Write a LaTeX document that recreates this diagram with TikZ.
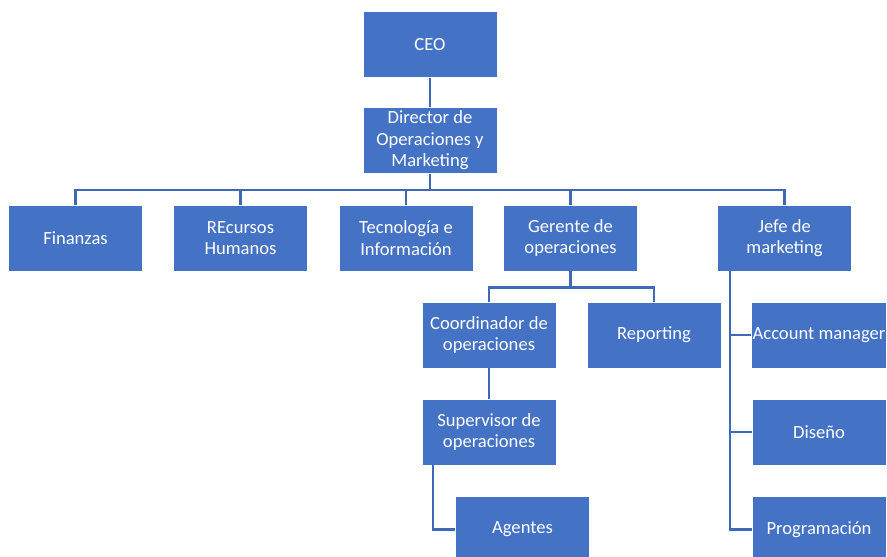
\documentclass[tikz,border=0pt]{standalone}
\usepackage{fontspec}
\setmainfont{Carlito}
\usepackage{tikz}
\usetikzlibrary{positioning,calc}
\definecolor{boxCol}{HTML}{4472C4}
\definecolor{lineCol}{HTML}{3F69B6}
\tikzset{
  orgbox/.style={draw=white, line width=0.6pt, fill=boxCol, text=white, align=center,
                 minimum width=134pt, minimum height=66pt, inner sep=1pt,
                 font=\fontsize{18.6}{21.5}\selectfont},
  conn/.style={draw=lineCol, line width=2.4pt},
}

\begin{document}
\begin{tikzpicture}[x=1pt,y=-1pt]
  \useasboundingbox (0,0) rectangle (887,557);
  % top levels
  \node[orgbox] (ceo)  at (430,44.5)  {CEO};
  \node[orgbox] (dir)  at (430,140.5) {Director de\\Operaciones y\\Marketing};
  % departments
  \node[orgbox] (fin)  at (75.5,238)  {Finanzas};
  \node[orgbox] (rh)   at (240.5,238) {REcursos\\Humanos};
  \node[orgbox] (tec)  at (406,238)   {Tecnología e\\Información};
  \node[orgbox] (ger)  at (570.5,238) {Gerente de\\operaciones};
  \node[orgbox] (jefe) at (784.5,238) {Jefe de\\marketing};
  % operaciones
  \node[orgbox] (coord) at (489,335)   {Coordinador de\\operaciones};
  \node[orgbox] (rep)   at (654,335)   {Reporting};
  \node[orgbox] (sup)   at (489,432)   {Supervisor de\\operaciones};
  \node[orgbox] (age)   at (522.5,529.5) {Agentes};
  % marketing
  \node[orgbox] (acc)  at (819,335)   {Account manager};
  \node[orgbox] (dis)  at (819,432)   {Diseño};
  \node[orgbox] (prog) at (819,529.5) {Programación};

  \draw[conn] (ceo.south) -- (dir.north);
  \foreach \c in {fin,rh,tec,ger,jefe}{\draw[conn] (dir.south) -- ++(0,16) -| (\c.north);}
  \foreach \c in {coord,rep}{\draw[conn] (ger.south) -- ++(0,16) -| (\c.north);}
  \draw[conn] (coord.south) -- (sup.north);
  \draw[conn] ([xshift=-56pt]sup.south) |- (age.west);
  \foreach \c in {acc,dis,prog}{\draw[conn] ([xshift=-54.5pt]jefe.south) |- (\c.west);}
\end{tikzpicture}
\end{document}
